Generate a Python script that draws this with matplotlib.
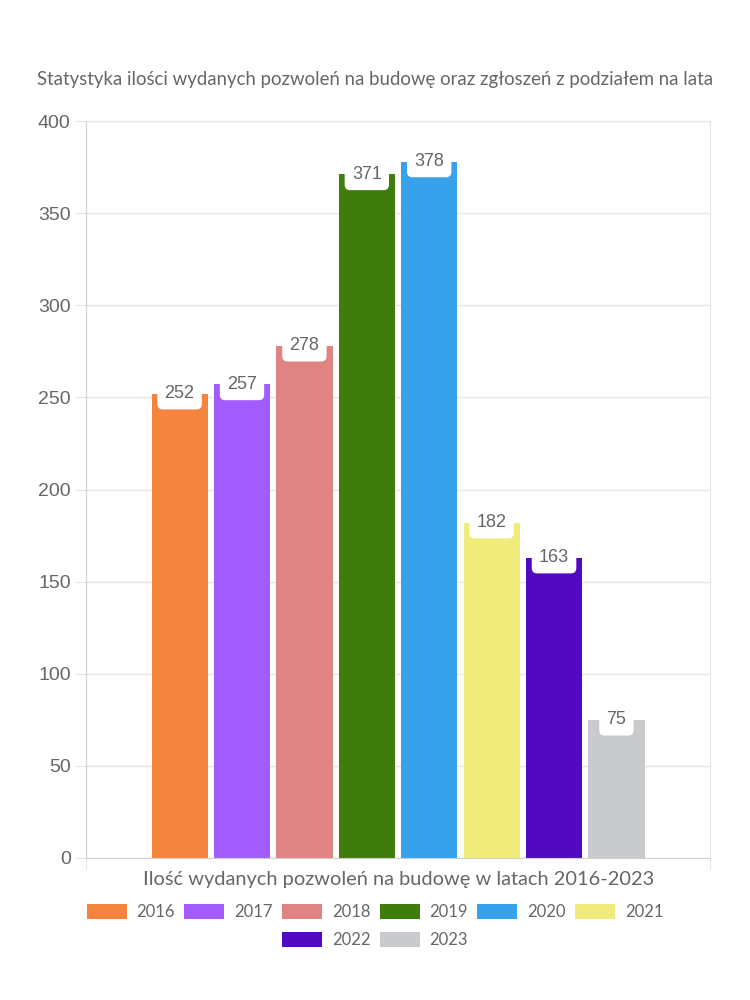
import matplotlib
matplotlib.use("Agg")
from matplotlib import pyplot as plt

years = ["2016", "2017", "2018", "2019", "2020", "2021", "2022", "2023"]
counts = [252, 257, 278, 371, 378, 182, 163, 75]
colors = ["#F5843F", "#A25BFD", "#E08383", "#3E7D0C",
          "#36A2EB", "#F0EB7B", "#5109C2", "#C9CACE"]

title = "Statystyka ilości wydanych pozwoleń na budowę oraz zgłoszeń z podziałem na lata"
xlabel = "Ilość wydanych pozwoleń na budowę w latach 2016-2023"

txt = "#666666"
grid = "#e5e5e5"
label_font = ["Lato", "DejaVu Sans"]
num_font = ["Liberation Sans", "DejaVu Sans"]

fig = plt.figure(figsize=(7.5, 10), dpi=100)
ax = fig.add_axes([0.1147, 0.142, 0.832, 0.737])

n = len(years)
slot = 0.8 / n
bars = []
for i, (yr, val, c) in enumerate(zip(years, counts, colors)):
    xpos = -0.4 + slot * (i + 0.5)
    b = ax.bar(xpos, val, width=slot * 0.9, color=c, label=yr, zorder=2)
    bars.append(b[0])
    ax.annotate(str(val), (xpos, val), ha="center", va="center",
                fontsize=13, color=txt, family=num_font, zorder=4,
                bbox=dict(boxstyle="round,pad=0.4,rounding_size=0.3",
                          fc="white", ec="none"))

ax.set_xlim(-0.5, 0.5)
ax.set_ylim(0, 400)
ax.set_yticks(range(0, 401, 50))
ax.set_xticks([-0.5, 0.5])
ax.set_xticklabels(["", ""])
ax.grid(axis="y", color=grid, linewidth=1, zorder=0)
for s in ax.spines.values():
    s.set_color(grid)
ax.spines["left"].set_color("#d0d0d0")
ax.spines["bottom"].set_color("#d0d0d0")
ax.tick_params(axis="y", length=8, color=grid, labelsize=14, labelcolor=txt, pad=3)
ax.tick_params(axis="x", length=8, color=grid)
for t in ax.get_yticklabels():
    t.set_family(num_font)

fig.text(0.5, 0.92, title, ha="center", va="center", fontsize=13.4,
         color=txt, family=label_font)
fig.text(0.531, 0.12, xlabel, ha="center", va="center", fontsize=14.4,
         color=txt, family=label_font)

leg_kw = dict(frameon=False, handlelength=2.4, handleheight=1.0,
              handletextpad=0.6, columnspacing=0.55, labelcolor=txt,
              prop={"family": label_font, "size": 12}, loc="center")
fig.legend(bars[:6], years[:6], ncol=6, bbox_to_anchor=(0.5, 0.088), **leg_kw)
fig.legend(bars[6:], years[6:], ncol=2, bbox_to_anchor=(0.5, 0.060), **leg_kw)

fig.savefig("out.png", dpi=100)
